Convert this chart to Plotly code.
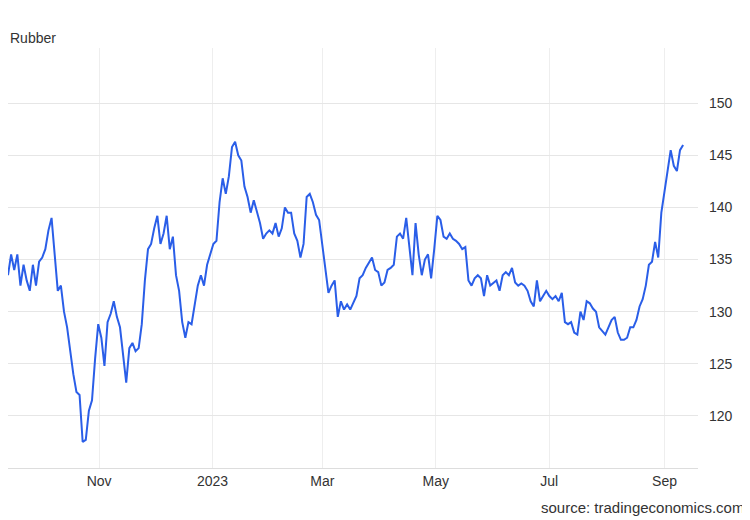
import pandas as pd
import plotly.graph_objects as go

START = "2022-09-13"
END = "2023-09-11"

prices = [
    133.5, 135.5, 134, 135.5, 132.5, 134.5, 133, 132, 134.5, 132.5, 134.8, 135.2, 136, 137.8, 139,
    135.5, 132, 132.5, 130, 128.5, 126, 124, 122.3, 122, 117.5, 117.7, 120.5, 121.5, 125.5, 128.8,
    127.5, 124.8, 129, 129.8, 131, 129.5, 128.5, 126, 123.2, 126.5, 127, 126.2, 126.5, 128.8, 133,
    136, 136.5, 138, 139.2, 136.5, 137.5, 139.2, 136, 137.2, 133.5, 132, 129, 127.5, 129, 128.8,
    130.5, 132.5, 133.5, 132.5, 134.5, 135.5, 136.5, 136.8, 140.5, 142.8, 141.3, 143, 145.8, 146.3,
    145, 144.5, 142, 141, 139.5, 140.7, 139.5, 138.5, 137, 137.5, 137.8, 137.5, 138.5, 137.2, 138,
    140, 139.5, 139.5, 137.5, 136.8, 135.2, 136.5, 141, 141.3, 140.5, 139.3, 138.8, 136.5, 134.5,
    131.8, 132.5, 133, 129.5, 131, 130.2, 130.7, 130.2, 130.8, 131.5, 133.2, 133.5, 134.2, 134.7,
    135.2, 134, 133.8, 132.5, 132.8, 134, 134.2, 134.5, 137.2, 137.5, 137, 139, 136, 133.5, 138.5,
    135.5, 133.5, 135, 135.5, 133.2, 136, 139.2, 138.8, 137.2, 137, 137.5, 137, 136.8, 136.5, 136,
    136.2, 133, 132.5, 133.2, 133.5, 133.2, 131.5, 133.5, 132.5, 132.8, 133, 132, 133.5, 133.8,
    133.5, 134.2, 132.8, 132.5, 132.7, 132.5, 132, 131, 130.5, 133, 131, 131.5, 132, 131.5, 131.2,
    131.5, 131, 131.8, 129, 128.8, 129, 128, 127.8, 130, 129.2, 131, 130.8, 130.3, 130, 128.5,
    128.2, 127.8, 128.5, 129.2, 129.5, 128, 127.3, 127.3, 127.5, 128.5, 128.5, 129.2, 130.5, 131.2,
    132.5, 134.5, 134.8, 136.7, 135.2, 139.5, 141.5, 143.5, 145.5, 144, 143.5, 145.5, 146,
]
dates = pd.date_range(START, END, periods=len(prices))

tickDates = ["2022-11-01", "2023-01-01", "2023-03-01", "2023-05-01", "2023-07-01", "2023-09-01"]
tickLabels = ["Nov", "2023", "Mar", "May", "Jul", "Sep"]
yTicks = [120, 125, 130, 135, 140, 145, 150]

fig = go.Figure()
fig.add_trace(go.Scatter(x=dates, y=prices, mode="lines",
    line=dict(color="#2a5ee8", width=2), showlegend=False))

fig.update_layout(
    width=750, height=520,
    margin=dict(l=0, r=60, t=40, b=60, autoexpand=False),
    plot_bgcolor="white", paper_bgcolor="white",
    font=dict(family="Liberation Sans, Arial", size=14, color="#333"),
)
fig.update_xaxes(range=["2022-09-13", "2023-09-19"], tickvals=tickDates, ticktext=tickLabels,
    showgrid=True, gridcolor="#eeeeee", showline=True, linecolor="#dddddd", ticks="",
    zeroline=False, automargin=False)
fig.update_yaxes(side="right", range=[115, 155.3], tickvals=yTicks, showgrid=True,
    gridcolor="#e6e6e6", zeroline=False, ticklabelstandoff=10, automargin=False)

fig.add_annotation(text="Rubber", xref="paper", yref="paper", x=0.0, y=1.0, yshift=20,
    xanchor="left", showarrow=False, font=dict(size=14, color="#333"))
fig.add_annotation(text="source: tradingeconomics.com", xref="paper", yref="paper", x=1.07, y=0,
    yshift=-50, xanchor="right", showarrow=False, font=dict(size=15, color="#333"))

fig.write_html("out.html")
